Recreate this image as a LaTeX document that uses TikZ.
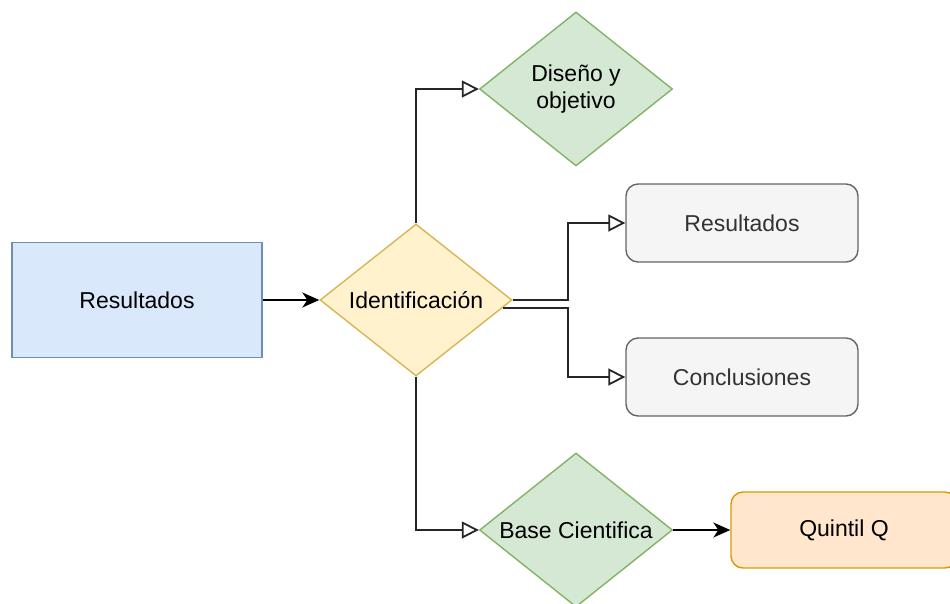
\documentclass[tikz,border=0pt]{standalone}
\usepackage{fontspec}
\setmainfont{Liberation Sans}
\usetikzlibrary{shapes.geometric,arrows.meta,positioning}
\definecolor{bluefill}{HTML}{DAE8FC}
\definecolor{bluedraw}{HTML}{6C8EBF}
\definecolor{yellowfill}{HTML}{FFF2CC}
\definecolor{yellowdraw}{HTML}{D6B656}
\definecolor{greenfill}{HTML}{D5E8D4}
\definecolor{greendraw}{HTML}{82B366}
\definecolor{grayfill}{HTML}{F5F5F5}
\definecolor{graydraw}{HTML}{666666}
\definecolor{graytext}{HTML}{333333}
\definecolor{orangefill}{HTML}{FFE6CC}
\definecolor{orangedraw}{HTML}{D79B00}
\tikzset{
  box/.style={rectangle, line width=1.4pt, inner sep=0pt, align=center,
    font=\fontsize{23pt}{27pt}\selectfont},
  decision/.style={diamond, aspect=1.25, line width=1.4pt, inner sep=0pt, align=center,
    font=\fontsize{23pt}{27pt}\selectfont},
  openline/.style={line width=1.8pt, black!85, -{Triangle[open,length=17pt,width=17pt]}},
  fullline/.style={line width=1.8pt, black, -{Stealth[length=17pt,width=15pt,inset=5pt]}}
}
\begin{document}
\begin{tikzpicture}[x=1pt,y=-1pt]
\useasboundingbox (0,0) rectangle (950,603);
\node[box, fill=bluefill, draw=bluedraw, minimum width=250pt, minimum height=115pt] (res) at (137,300) {Resultados};
\node[decision, fill=yellowfill, draw=yellowdraw, minimum width=192pt, minimum height=152pt] (ident) at (416,300) {Identificación};
\node[decision, fill=greenfill, draw=greendraw, minimum width=193pt, minimum height=154pt] (diseno) at (576,89) {Diseño y\\objetivo};
\node[box, rounded corners=12pt, fill=grayfill, draw=graydraw, text=graytext, minimum width=232pt, minimum height=78pt] (resB) at (742,223) {Resultados};
\node[box, rounded corners=12pt, fill=grayfill, draw=graydraw, text=graytext, minimum width=232pt, minimum height=78pt] (conc) at (742,377) {Conclusiones};
\node[decision, fill=greenfill, draw=greendraw, minimum width=193pt, minimum height=154pt] (base) at (576,530) {Base Cientifica};
\node[box, rounded corners=12pt, fill=orangefill, draw=orangedraw, minimum width=226pt, minimum height=76pt] (quin) at (844,530) {Quintil Q};
\coordinate (split) at (568,303);

\draw[fullline] (res.east) -- (ident.west);
\draw[openline] (ident.north) |- (diseno.west);
\draw[openline] (ident.east) -- (ident.east -| split) |- (resB.west);
\draw[openline] (ident.-5) -- (ident.-5 -| split) |- (conc.west);
\draw[openline] (ident.south) |- (base.west);
\draw[fullline] (base.east) -- (quin.west);
\end{tikzpicture}
\end{document}
